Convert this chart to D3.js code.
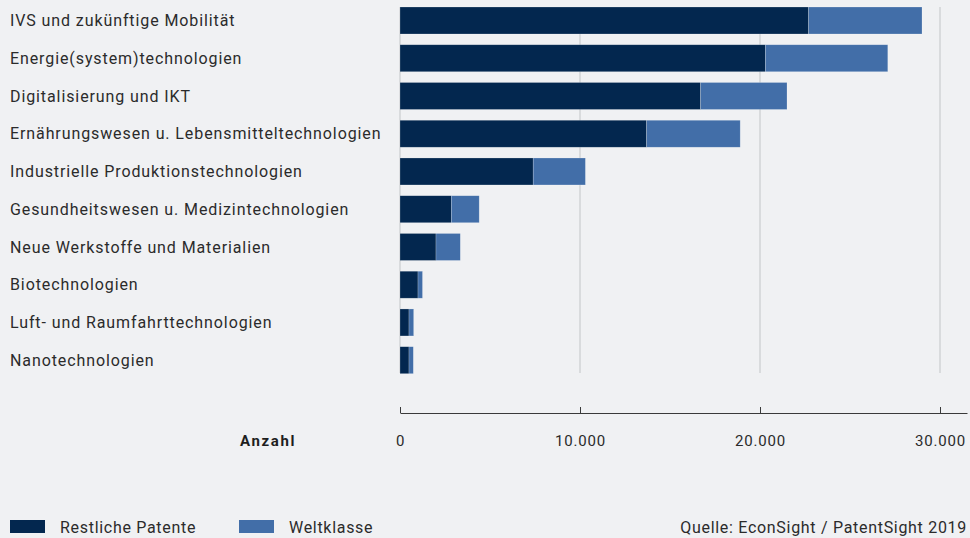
<!DOCTYPE html>
<html>
<head>
<meta charset="utf-8">
<script src="https://cdn.jsdelivr.net/npm/d3@7"></script>
<style>
  html, body { margin: 0; padding: 0; background: #f0f1f3; }
  svg { display: block; }
</style>
</head>
<body>
<svg id="chart" width="970" height="538"></svg>
<script>
const categories = [
  "IVS und zukünftige Mobilität",
  "Energie(system)technologien",
  "Digitalisierung und IKT",
  "Ernährungswesen u. Lebensmitteltechnologien",
  "Industrielle Produktionstechnologien",
  "Gesundheitswesen u. Medizintechnologien",
  "Neue Werkstoffe und Materialien",
  "Biotechnologien",
  "Luft- und Raumfahrttechnologien",
  "Nanotechnologien"
];
const restliche = [22700, 20300, 16700, 13700, 7400, 2850, 2000, 1000, 500, 500];
const weltklasse = [6300, 6800, 4800, 5200, 2900, 1550, 1350, 250, 260, 240];
const seriesNames = ["Restliche Patente", "Weltklasse"];
const tickValues = [0, 10000, 20000, 30000];
const tickLabels = ["0", "10.000", "20.000", "30.000"];
const axisTitle = "Anzahl";
const sourceText = "Quelle: EconSight / PatentSight 2019";

const colors = ["#03274f", "#426ea8"];
const font = "Roboto, Inter, 'Noto Sans', sans-serif";
const condFont = "Roboto, 'Liberation Sans', sans-serif";

const svg = d3.select("#chart");
svg.append("rect").attr("width", 970).attr("height", 538).attr("fill", "#f0f1f3");

const rows = categories.map((c, i) => ({ cat: c, r: restliche[i], w: weltklasse[i] }));
const stack = d3.stack().keys(["r", "w"]);
const stacked = stack(rows);

const x = d3.scaleLinear().domain([0, 31500]).range([400, 967]);
const y = d3.scaleBand().domain(categories).range([7, 373.7]).paddingInner(0.285).paddingOuter(0);

// gridlines
svg.append("g").selectAll("line").data(tickValues).join("line")
  .attr("x1", d => x(d)).attr("x2", d => x(d))
  .attr("y1", 7).attr("y2", 373)
  .attr("stroke", "#d2d3d6").attr("stroke-width", 1.5);

// bars
svg.append("g").selectAll("g").data(stacked).join("g")
  .attr("fill", (d, i) => colors[i])
  .selectAll("rect").data(d => d).join("rect")
  .attr("x", d => x(d[0]))
  .attr("y", d => y(d.data.cat))
  .attr("width", d => x(d[1]) - x(d[0]))
  .attr("height", y.bandwidth())
  .attr("stroke", "#ffffff").attr("stroke-opacity", 0.35).attr("stroke-width", 0.6);

// category labels
svg.append("g").selectAll("text").data(categories).join("text")
  .attr("x", 10)
  .attr("y", d => y(d) + y.bandwidth() / 2)
  .attr("dy", "0.36em")
  .attr("font-family", font)
  .attr("font-size", 16)
  .attr("letter-spacing", 0.9)
  .attr("fill", "#2b2b2b")
  .text(d => d);

// axis
const axisG = svg.append("g").attr("transform", "translate(0,413)")
  .call(d3.axisBottom(x).tickValues(tickValues)
    .tickFormat((d, i) => tickLabels[i])
    .tickSizeInner(-6).tickSizeOuter(0).tickPadding(22));
axisG.select(".domain").attr("stroke", "#3a3a3a").attr("stroke-width", 1);
axisG.selectAll(".tick line").attr("stroke", "#3a3a3a").attr("stroke-width", 1);
axisG.selectAll(".tick text")
  .attr("font-family", condFont).attr("font-size", 15).attr("letter-spacing", 0.8)
  .attr("fill", "#2b2b2b");

svg.append("text")
  .attr("x", 296).attr("y", 446)
  .attr("text-anchor", "end")
  .attr("font-family", condFont).attr("font-size", 15).attr("font-weight", "bold")
  .attr("letter-spacing", 1.6)
  .attr("fill", "#1e1e1e")
  .text(axisTitle);

// legend
const legendX = [10, 239];
const legend = svg.append("g").selectAll("g").data(seriesNames).join("g")
  .attr("transform", (d, i) => `translate(${legendX[i]},520)`);
legend.append("rect").attr("width", 35).attr("height", 13).attr("fill", (d, i) => colors[i]);
legend.append("text").attr("x", 50).attr("y", 12.5)
  .attr("font-family", condFont).attr("font-size", 16).attr("letter-spacing", 0.7)
  .attr("fill", "#2b2b2b")
  .text(d => d);

svg.append("text")
  .attr("x", 967).attr("y", 532.5)
  .attr("text-anchor", "end")
  .attr("font-family", condFont).attr("font-size", 16).attr("letter-spacing", 0.7)
  .attr("fill", "#2b2b2b")
  .text(sourceText);
</script>
</body>
</html>
